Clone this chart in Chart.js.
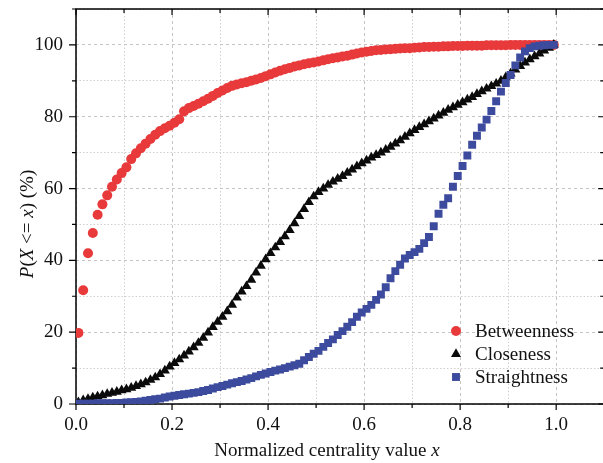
<!DOCTYPE html>
<html>
<head>
<meta charset="utf-8">
<script src="https://cdn.jsdelivr.net/npm/chart.js@4.4.1/dist/chart.umd.min.js"></script>
<style>
    html, body { margin: 0; padding: 0; background: #fff; overflow: hidden; }
    #wrap { width: 610px; height: 463px; }
</style>
</head>
<body>
<div id="wrap"><canvas id="cdf-chart" width="610" height="463"></canvas></div>
<script>
// ─── Data ─────────────────────────────────────────────

var xValues = [
    0.005, 0.015, 0.025, 0.035, 0.045, 0.055, 0.065, 0.075, 0.085, 0.095,
    0.105, 0.115, 0.125, 0.135, 0.145, 0.155, 0.165, 0.175, 0.185, 0.195,
    0.205, 0.215, 0.225, 0.235, 0.245, 0.255, 0.265, 0.275, 0.285, 0.295,
    0.305, 0.315, 0.325, 0.335, 0.345, 0.355, 0.365, 0.375, 0.385, 0.395,
    0.405, 0.415, 0.425, 0.435, 0.445, 0.455, 0.465, 0.475, 0.485, 0.495,
    0.505, 0.515, 0.525, 0.535, 0.545, 0.555, 0.565, 0.575, 0.585, 0.595,
    0.605, 0.615, 0.625, 0.635, 0.645, 0.655, 0.665, 0.675, 0.685, 0.695,
    0.705, 0.715, 0.725, 0.735, 0.745, 0.755, 0.765, 0.775, 0.785, 0.795,
    0.805, 0.815, 0.825, 0.835, 0.845, 0.855, 0.865, 0.875, 0.885, 0.895,
    0.905, 0.915, 0.925, 0.935, 0.945, 0.955, 0.965, 0.975, 0.985, 0.995
];

var betweenness = [
    19.8, 31.7, 42.0, 47.6, 52.7, 55.6, 58.1, 60.5, 62.5, 64.3,
    65.9, 68.2, 69.8, 71.2, 72.5, 73.8, 75.0, 76.0, 76.8, 77.5,
    78.3, 79.3, 81.5, 82.4, 83.0, 83.6, 84.3, 85.0, 85.8, 86.6,
    87.3, 88.0, 88.6, 89.0, 89.3, 89.6, 90.0, 90.4, 90.8, 91.3,
    91.8, 92.3, 92.8, 93.2, 93.6, 94.0, 94.3, 94.6, 94.9, 95.1,
    95.4, 95.7, 96.0, 96.3, 96.5, 96.8, 97.0, 97.3, 97.6, 97.9,
    98.1, 98.3, 98.5, 98.6, 98.7, 98.8, 98.9, 99.0, 99.1, 99.1,
    99.2, 99.3, 99.4, 99.4, 99.5, 99.5, 99.6, 99.6, 99.7, 99.7,
    99.7, 99.8, 99.8, 99.8, 99.8, 99.9, 99.9, 99.9, 99.9, 99.9,
    100, 100, 100, 100, 100, 100, 100, 100, 100, 100
];

var closeness = [
    0.5, 1.0, 1.4, 1.8, 2.1, 2.4, 2.8, 3.1, 3.4, 3.8,
    4.1, 4.5, 5.0, 5.5, 6.0, 6.7, 7.4, 8.3, 9.3, 10.4,
    11.4, 12.4, 13.5, 14.6, 15.8, 17.0, 18.4, 19.9, 21.4, 22.9,
    24.3, 25.8, 27.6, 29.6, 31.3, 32.8, 34.6, 36.6, 38.5, 40.3,
    42.0, 43.6, 45.1, 46.7, 48.4, 50.3, 52.3, 54.3, 56.2, 57.8,
    59.0, 60.0, 61.0, 61.9, 62.7, 63.5, 64.4, 65.3, 66.2, 67.0,
    67.8, 68.6, 69.3, 70.0, 70.8, 71.6, 72.5, 73.4, 74.4, 75.4,
    76.3, 77.1, 77.9, 78.7, 79.5, 80.3, 81.1, 81.9, 82.6, 83.3,
    84.0, 84.8, 85.5, 86.3, 87.1, 87.8, 88.5, 89.2, 90.0, 91.0,
    92.0, 93.1, 94.1, 95.1, 96.0, 96.8, 97.6, 98.4, 99.2, 100
];

var straightness = [
    0.1, 0.1, 0.1, 0.1, 0.2, 0.2, 0.2, 0.2, 0.3, 0.3,
    0.4, 0.5, 0.6, 0.7, 0.9, 1.1, 1.3, 1.5, 1.8, 2.1,
    2.3, 2.5, 2.7, 2.9, 3.1, 3.3, 3.6, 3.9, 4.3, 4.7,
    5.0, 5.4, 5.8, 6.1, 6.4, 6.8, 7.2, 7.7, 8.1, 8.5,
    8.9, 9.3, 9.6, 10.0, 10.4, 10.8, 11.2, 12.2, 13.1, 14.0,
    14.8, 15.9, 17.0, 18.0, 19.2, 20.3, 21.5, 22.8, 24.3, 25.5,
    26.5, 27.6, 29.0, 30.5, 32.5, 35.0, 37.0, 38.8, 40.5, 41.5,
    42.3, 43.2, 44.8, 46.5, 49.5, 53.0, 55.5, 57.3, 60.5, 63.5,
    66.3, 69.2, 72.2, 74.7, 77.0, 79.2, 81.6, 84.3, 87.0, 89.4,
    91.6, 94.3, 96.5, 98.2, 99.1, 99.6, 99.8, 99.9, 100, 100
];

var seriesNames  = ['Betweenness', 'Closeness', 'Straightness'];
var xTickLabels  = ['0.0', '0.2', '0.4', '0.6', '0.8', '1.0'];
var yTickLabels  = ['0', '20', '40', '60', '80', '100'];

// ─── Helpers ─────────────────────────────────────────

var SERIF = '"Liberation Serif", "Times New Roman", serif';
var FONT_SIZE = 19;

function toPoints(ys) {
    return xValues.map(function(x, i) { return { x: x, y: ys[i] }; });
}

function isMajorX(v) { return Math.round(v * 10) % 2 === 0; }
function isMajorY(v) { return Math.round(v) % 20 === 0; }

function xLabel(v) {
    var s = (Math.round(v * 10) / 10).toFixed(1);
    return xTickLabels.indexOf(s) >= 0 ? s : '';
}
function yLabel(v) {
    var s = String(Math.round(v));
    return yTickLabels.indexOf(s) >= 0 ? s : '';
}

// draw a run of [text, italic] pieces starting at x (baseline y)
function drawPieces(ctx, pieces, x, y) {
    pieces.forEach(function(p) {
        ctx.font = (p[1] ? 'italic ' : '') + FONT_SIZE + 'px ' + SERIF;
        ctx.fillText(p[0], x, y);
        x += ctx.measureText(p[0]).width;
    });
}
function piecesWidth(ctx, pieces) {
    var w = 0;
    pieces.forEach(function(p) {
        ctx.font = (p[1] ? 'italic ' : '') + FONT_SIZE + 'px ' + SERIF;
        w += ctx.measureText(p[0]).width;
    });
    return w;
}

// ─── Frame, tick marks, titles, legend ───────────────

var decorPlugin = {
    id: 'decor',
    beforeDatasetsDraw: function(chart) {
        var ctx = chart.ctx, a = chart.chartArea;
        var xs = chart.scales.x, ys = chart.scales.y;
        ctx.save();
        ctx.strokeStyle = '#000';
        ctx.lineWidth = 1.5;
        ctx.strokeRect(a.left, a.top, a.right - a.left, a.bottom - a.top);

        ctx.lineWidth = 1.2;
        ctx.beginPath();
        xs.ticks.forEach(function(t) {
            var px = xs.getPixelForValue(t.value);
            var len = isMajorX(t.value) ? 6 : 4;
            ctx.moveTo(px, a.bottom); ctx.lineTo(px, a.bottom + len);
            ctx.moveTo(px, a.top);    ctx.lineTo(px, a.top + len);
        });
        ys.ticks.forEach(function(t) {
            var py = ys.getPixelForValue(t.value);
            var major = isMajorY(t.value);
            ctx.moveTo(a.left, py);  ctx.lineTo(a.left - (major ? 7 : 4), py);
            ctx.moveTo(a.right, py); ctx.lineTo(a.right - (major ? 6 : 4), py);
        });
        ctx.stroke();
        ctx.restore();
    },
    afterDraw: function(chart) {
        var ctx = chart.ctx;
        ctx.save();
        ctx.fillStyle = '#111';
        ctx.textBaseline = 'alphabetic';
        ctx.textAlign = 'left';

        // x title
        var xt = [['Normalized centrality value ', false], ['x', true]];
        drawPieces(ctx, xt, 327 - piecesWidth(ctx, xt) / 2, 456);

        // y title (rotated)
        var yt = [['P', true], ['(', false], ['X', true], [' <= ', false], ['x', true], [') (%)', false]];
        ctx.save();
        ctx.translate(33, 224);
        ctx.rotate(-Math.PI / 2);
        drawPieces(ctx, yt, -piecesWidth(ctx, yt) / 2, 0);
        ctx.restore();

        // legend
        var ds = chart.data.datasets;
        var rows = [331, 354, 377];
        ctx.font = FONT_SIZE + 'px ' + SERIF;
        seriesNames.forEach(function(name, i) {
            var d = ds[i];
            ctx.fillStyle = d.backgroundColor;
            ctx.strokeStyle = d.backgroundColor;
            Chart.helpers.drawPoint(ctx, {
                pointStyle: d.pointStyle, radius: d.pointRadius, rotation: 0, borderWidth: 0
            }, 456, rows[i]);
            ctx.fillStyle = '#111';
            ctx.fillText(name, 475, rows[i] + 6);
        });
        ctx.restore();
    }
};

// ─── Chart ───────────────────────────────────────────

Chart.defaults.font.family = SERIF;
Chart.defaults.font.size = FONT_SIZE;
Chart.defaults.color = '#111';

var gridColor = function(c) { return c.tick && (c.scale.axis === 'x' ? isMajorX(c.tick.value) : isMajorY(c.tick.value)) ? '#c9c4c4' : '#d2cece'; };
var gridDash  = function(c) { return c.tick && (c.scale.axis === 'x' ? isMajorX(c.tick.value) : isMajorY(c.tick.value)) ? [3, 3] : [1.5, 2]; };

new Chart(document.getElementById('cdf-chart').getContext('2d'), {
    type: 'scatter',
    data: {
        datasets: [
            { label: seriesNames[0], data: toPoints(betweenness), order: 3,
              pointStyle: 'circle', pointRadius: 5, backgroundColor: '#e8393b', borderWidth: 0 },
            { label: seriesNames[1], data: toPoints(closeness), order: 2,
              pointStyle: 'triangle', pointRadius: 5.8, backgroundColor: '#0b0b0b', borderWidth: 0 },
            { label: seriesNames[2], data: toPoints(straightness), order: 1,
              pointStyle: 'rect', pointRadius: 5.6, backgroundColor: '#3c4b9d', borderWidth: 0 }
        ]
    },
    options: {
        responsive: false,
        animation: false,
        events: [],
        layout: { padding: { left: 0, top: 9, right: 1.5, bottom: 0 } },
        plugins: { legend: { display: false }, tooltip: { enabled: false } },
        scales: {
            x: {
                type: 'linear', min: 0, max: 1.1,
                afterFit: function(s) { s.height = 59; s.paddingLeft = 0; s.paddingRight = 0; },
                grid: { color: gridColor, lineWidth: 1, drawTicks: false },
                border: { display: false, dash: gridDash },
                ticks: { stepSize: 0.1, autoSkip: false, maxRotation: 0, padding: 10, callback: xLabel }
            },
            y: {
                type: 'linear', min: 0, max: 110,
                afterFit: function(s) { s.width = 76; s.paddingTop = 0; s.paddingBottom = 0; },
                grid: { color: gridColor, lineWidth: 1, drawTicks: false },
                border: { display: false, dash: gridDash },
                ticks: { stepSize: 10, autoSkip: false, padding: 13, callback: yLabel }
            }
        }
    },
    plugins: [decorPlugin]
});
</script>
</body>
</html>
